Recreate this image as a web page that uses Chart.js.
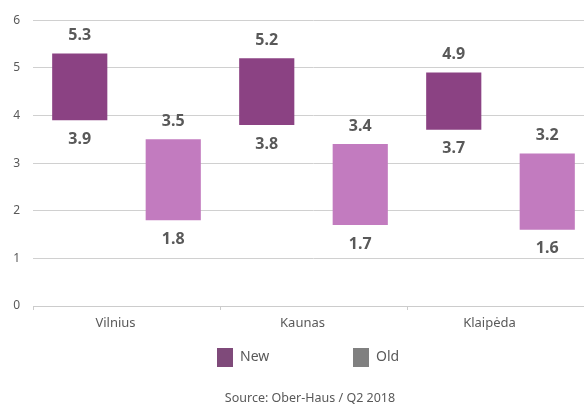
<!DOCTYPE html>
<html>
<head>
  <meta charset="utf-8">
  <title>Price range</title>
  <script src="https://cdn.jsdelivr.net/npm/chart.js"></script>
  <style>
    body { margin: 0; overflow: hidden; background: #fff; }
    #wrap { width: 594px; height: 405px; }
  </style>
</head>
<body>
  <div id="wrap"><canvas id="chart" width="594" height="405"></canvas></div>

  <script>
    var cities = ['Vilnius', 'Kaunas', 'Klaipėda'];
    var newLow = [3.9, 3.8, 3.7];
    var newHigh = [5.3, 5.2, 4.9];
    var oldLow = [1.8, 1.7, 1.6];
    var oldHigh = [3.5, 3.4, 3.2];
    var yTicks = [0, 1, 2, 3, 4, 5, 6];
    var legendNames = ['New', 'Old'];
    var sourceText = 'Source: Ober-Haus / Q2 2018';

    var textColor = '#595959';
    var fontName = '"Noto Sans", sans-serif';

    function pairs(lo, hi) {
      var out = [];
      for (var i = 0; i < lo.length; i++) out.push([lo[i], hi[i]]);
      return out;
    }

    // values above and below every bar, plus legend and source line
    var extras = {
      id: 'extras',
      afterDatasetsDraw: function(chart) {
        var ctx = chart.ctx;
        ctx.save();
        ctx.fillStyle = textColor;
        ctx.font = 'bold 16px ' + fontName;
        ctx.textAlign = 'center';
        ctx.textBaseline = 'middle';
        chart.data.datasets.forEach(function(ds, d) {
          var meta = chart.getDatasetMeta(d);
          meta.data.forEach(function(bar, i) {
            var v = ds.data[i];
            ctx.fillText(v[1].toFixed(1), bar.x, bar.y - 18);
            ctx.fillText(v[0].toFixed(1), bar.x, bar.base + 19);
          });
        });
        ctx.restore();
      },
      afterDraw: function(chart) {
        var ctx = chart.ctx;
        ctx.save();
        var swatches = ['#7f4a7a', '#808080'];
        var xs = [217, 353];
        ctx.font = '14px ' + fontName;
        ctx.textBaseline = 'middle';
        ctx.textAlign = 'left';
        for (var i = 0; i < legendNames.length; i++) {
          ctx.fillStyle = swatches[i];
          ctx.fillRect(xs[i], 348, 16, 19);
          ctx.fillStyle = textColor;
          ctx.fillText(legendNames[i], xs[i] + 23, 357);
        }
        ctx.font = '12.5px ' + fontName;
        ctx.textAlign = 'center';
        ctx.fillText(sourceText, 310, 398);
        ctx.restore();
      }
    };

    new Chart(document.getElementById('chart'), {
      type: 'bar',
      data: {
        labels: cities,
        datasets: [{
          label: legendNames[0],
          data: pairs(newLow, newHigh),
          backgroundColor: '#8b4283',
          borderWidth: 0,
          categoryPercentage: 1.0,
          barPercentage: 0.59
        }, {
          label: legendNames[1],
          data: pairs(oldLow, oldHigh),
          backgroundColor: '#c27bbf',
          borderWidth: 0,
          categoryPercentage: 1.0,
          barPercentage: 0.59
        }]
      },
      options: {
        responsive: false,
        animation: false,
        layout: { padding: { top: 4, right: 0, bottom: 0, left: 0 } },
        plugins: {
          legend: { display: false },
          tooltip: { enabled: false }
        },
        scales: {
          x: {
            afterFit: function(scale) { scale.height = 99; },
            grid: {
              offset: true,
              drawOnChartArea: false,
              tickLength: 4,
              color: '#cccccc'
            },
            border: { display: true, color: '#cccccc' },
            ticks: {
              color: textColor,
              font: { family: fontName, size: 13 },
              padding: 5,
              labelOffset: -11
            }
          },
          y: {
            min: yTicks[0],
            max: yTicks[yTicks.length - 1],
            afterFit: function(scale) { scale.width = 33; },
            afterBuildTicks: function(scale) {
              scale.ticks = yTicks.map(function(v) { return { value: v }; });
            },
            grid: { color: '#d0d0d0', drawTicks: false },
            border: { display: false },
            ticks: {
              color: textColor,
              font: { family: fontName, size: 12 },
              padding: 13
            }
          }
        }
      },
      plugins: [extras]
    });
  </script>
</body>
</html>
